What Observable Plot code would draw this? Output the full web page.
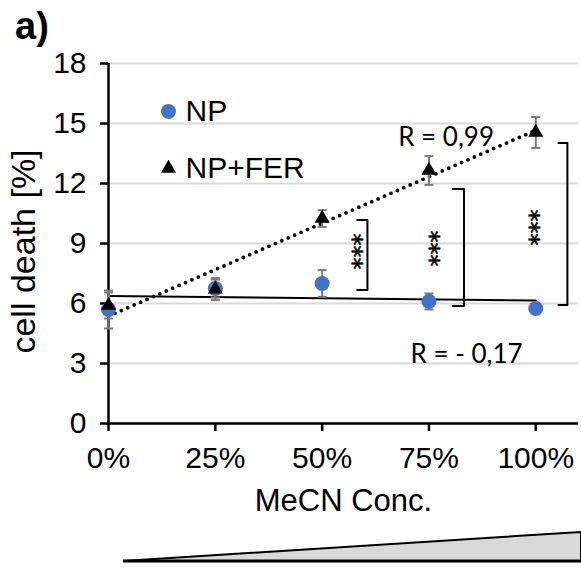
<!DOCTYPE html>
<html><head><meta charset="utf-8">
<script src="https://cdn.jsdelivr.net/npm/d3@7"></script>
<script src="https://cdn.jsdelivr.net/npm/@observablehq/plot@0.6"></script>
<style>
html,body{margin:0;padding:0;background:#fff;}
#wrap{position:relative;width:581px;height:569px;overflow:hidden;font-family:"Liberation Sans",Arial,sans-serif;}
#title{position:absolute;left:15px;top:6px;font-weight:bold;font-size:38px;line-height:40px;color:#000;}
#wedge{position:absolute;left:0;top:0;pointer-events:none;}
#chart{position:absolute;left:0;top:0;}
</style></head><body>
<div id="wrap"><div id="chart"></div><div id="title">a)</div>
<svg id="wedge" width="581" height="569"><polygon points="123,561 581,561 581,532" fill="#d9d9d9" stroke="#000" stroke-width="2"/><line x1="123" y1="561" x2="581" y2="561" stroke="#000" stroke-width="3"/></svg>
</div>
<script>
// ---- data ----
const concentrations = [0, 25, 50, 75, 100];
const npMean  = [5.7, 6.75, 7.0, 6.1, 5.75];
const npErr   = [0.95, 0.45, 0.67, 0.4, 0];
const ferMean = [5.9, 6.72, 10.25, 12.65, 14.55];
const ferErr  = [0.65, 0.55, 0.42, 0.72, 0.77];
const seriesNames = ["NP", "NP+FER"];
const yTicks = [0, 3, 6, 9, 12, 15, 18];
const xTicks = [0, 25, 50, 75, 100];
const xTickLabels = ["0%", "25%", "50%", "75%", "100%"];
const yLabel = "cell death [%]";
const xLabel = "MeCN Conc.";
// annotations
const rLabels = ["R = 0,99", "R = - 0,17"];
const rLabelX = [79, 83.8];
const rLabelY = [14.3, 3.42];
const sigLabel = "***";
const bracketX = [60.6, 83.2, 107.4];
const bracketArmX = [58.2, 80.6, 105.3];
const bracketTop = [10.17, 11.72, 14.03];
const bracketBottom = [6.67, 5.88, 5.92];
const starX = [58.2, 76.2, 99.4];
const starY = [8.6, 8.75, 9.8];

const BLUE = "#4472C4";
const ERR = "#7a7a7a";

const data = concentrations.map((c, i) => ({conc: c, np: npMean[i], npErr: npErr[i], fer: ferMean[i], ferErr: ferErr[i]}));
const npBars = data.filter(d => d.npErr > 0);
const ferBars = data.filter(d => d.ferErr > 0);
const brackets = bracketX.flatMap((bx, i) => [
  {b: i, x: bracketArmX[i], y: bracketTop[i]},
  {b: i, x: bx, y: bracketTop[i]},
  {b: i, x: bx, y: bracketBottom[i]},
  {b: i, x: bracketArmX[i], y: bracketBottom[i]}
]);
const stars = starX.map((x, i) => ({x, y: starY[i]}));
const rl = rLabels.map((t, i) => ({t, x: rLabelX[i], y: rLabelY[i]}));

const cap = {draw(ctx) { ctx.moveTo(-4.5, 0); ctx.lineTo(4.5, 0); }};

const chart = Plot.plot({
  width: 581, height: 569,
  marginTop: 63, marginBottom: 146, marginLeft: 108, marginRight: 3,
  style: {fontFamily: "'Liberation Sans', Arial, sans-serif", color: "#000", background: "transparent"},
  x: {domain: [0, 110]},
  y: {domain: [0, 18]},
  marks: [
    Plot.gridY(yTicks, {stroke: "#d9d9d9", strokeOpacity: 1, strokeWidth: 2}),
    Plot.axisY(yTicks, {tickSize: 8, tickPadding: 14, fontSize: 30, strokeWidth: 2.5, label: null}),
    Plot.axisX(xTicks, {tickSize: 8, tickPadding: 15, fontSize: 30, strokeWidth: 2.5, label: null, tickFormat: d => xTickLabels[xTicks.indexOf(d)]}),
    Plot.ruleX([0], {strokeWidth: 2.5}),
    Plot.ruleY([0], {strokeWidth: 2.5}),
    // trend lines
    Plot.linearRegressionY(data, {x: "conc", y: "np", stroke: "#000", strokeWidth: 2, ci: 0}),
    Plot.linearRegressionY(data, {x: "conc", y: "fer", stroke: "#000", strokeWidth: 3.8, strokeDasharray: "0 7", strokeLinecap: "round", ci: 0}),
    // error bars
    Plot.ruleX(npBars, {x: "conc", y1: d => d.np - d.npErr, y2: d => d.np + d.npErr, stroke: ERR, strokeWidth: 2}),
    Plot.dot(npBars, {x: "conc", y: d => d.np - d.npErr, symbol: cap, stroke: ERR, strokeWidth: 2, fill: "none"}),
    Plot.dot(npBars, {x: "conc", y: d => d.np + d.npErr, symbol: cap, stroke: ERR, strokeWidth: 2, fill: "none"}),
    Plot.ruleX(ferBars, {x: "conc", y1: d => d.fer - d.ferErr, y2: d => d.fer + d.ferErr, stroke: ERR, strokeWidth: 2}),
    Plot.dot(ferBars, {x: "conc", y: d => d.fer - d.ferErr, symbol: cap, stroke: ERR, strokeWidth: 2, fill: "none"}),
    Plot.dot(ferBars, {x: "conc", y: d => d.fer + d.ferErr, symbol: cap, stroke: ERR, strokeWidth: 2, fill: "none"}),
    // markers
    Plot.dot(data, {x: "conc", y: "np", r: 7.5, fill: BLUE, stroke: "none"}),
    Plot.dot(data, {x: "conc", y: "fer", r: 5.6, symbol: "triangle", fill: "#000", stroke: "none"}),
    // significance brackets
    Plot.line(brackets, {x: "x", y: "y", z: "b", stroke: "#000", strokeWidth: 2, curve: "linear"}),
    Plot.text(stars, {x: "x", y: "y", text: () => sigLabel, rotate: 90, dx: -4, fontSize: 24, fontFamily: "'DejaVu Sans', sans-serif", fill: "#000", stroke: "#000", strokeWidth: 0.5}),
    // R labels
    Plot.text(rl, {x: "x", y: "y", text: "t", fontSize: 26, fontFamily: "Lato, 'Open Sans', sans-serif", fill: "#000"}),
    // legend
    Plot.dot([0], {frameAnchor: "top-left", dx: 60, dy: 48, r: 7.5, fill: BLUE, stroke: "none"}),
    Plot.text([seriesNames[0]], {frameAnchor: "top-left", dx: 77, dy: 48, textAnchor: "start", lineAnchor: "middle", fontSize: 30, fill: "#000"}),
    Plot.dot([0], {frameAnchor: "top-left", dx: 60, dy: 105, r: 5.6, symbol: "triangle", fill: "#000", stroke: "none"}),
    Plot.text([seriesNames[1]], {frameAnchor: "top-left", dx: 77, dy: 105, textAnchor: "start", lineAnchor: "middle", fontSize: 30, fill: "#000"}),
    // axis titles
    Plot.text([yLabel], {frameAnchor: "left", dx: -84, dy: 8, rotate: -90, textAnchor: "middle", lineAnchor: "middle", fontSize: 34, fill: "#000"}),
    Plot.text([xLabel], {frameAnchor: "bottom", dy: 78, textAnchor: "middle", lineAnchor: "middle", fontSize: 31, fill: "#000"})
  ]
});
document.getElementById("chart").appendChild(chart);
</script>
</body></html>
